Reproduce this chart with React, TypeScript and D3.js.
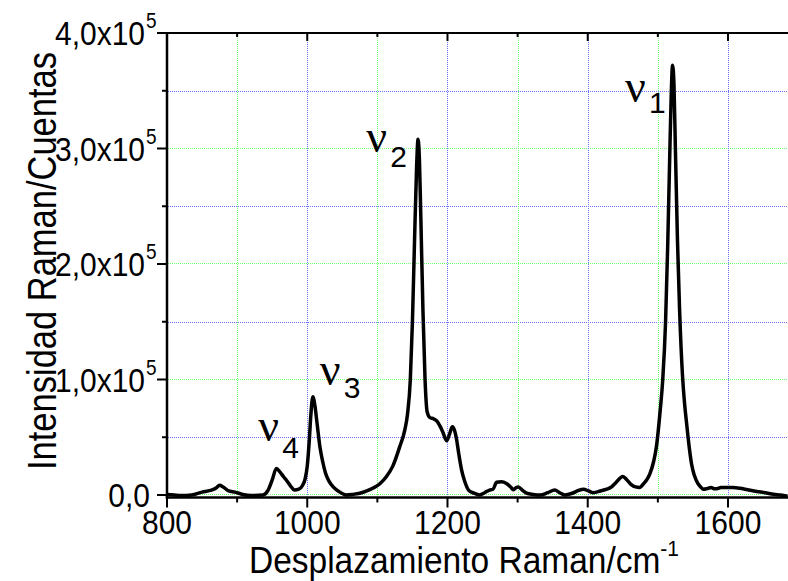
import React from "react";
import * as d3 from "d3";

// Raman spectrum (wavenumber cm^-1, intensity in counts)
const shifts = [
  800, 810, 820, 835, 850, 862, 870, 875, 880, 888, 897, 908, 920, 937, 944, 950, 956, 961, 966, 970,
  976, 982, 988, 993, 997, 1000, 1003, 1005, 1008, 1011, 1014, 1018, 1022, 1026, 1031, 1037, 1045, 1056,
  1065, 1075, 1085, 1094, 1104, 1113, 1122, 1132, 1139, 1143, 1147, 1150, 1153, 1156, 1158, 1160, 1162,
  1165, 1168, 1171, 1175, 1180, 1185, 1189, 1193, 1199, 1203, 1207, 1210, 1213, 1216, 1220, 1225, 1230,
  1238, 1246, 1253, 1260, 1265, 1270, 1277, 1284, 1290, 1294, 1298, 1301, 1307, 1313, 1322, 1332, 1343,
  1353, 1360, 1367, 1378, 1387, 1394, 1401, 1408, 1418, 1427, 1434, 1439, 1445, 1450, 1456, 1462, 1468,
  1474, 1480, 1485, 1489, 1494, 1498, 1503, 1507, 1511, 1514, 1517, 1519, 1521, 1523, 1525, 1528, 1531,
  1535, 1538, 1541, 1545, 1548, 1552, 1557, 1561, 1565, 1570, 1576, 1580, 1584, 1590, 1598, 1607, 1617,
  1628, 1641, 1653, 1665, 1675, 1685,
];
const intensities = [
  500, 0, -500, 0, 2500, 4000, 6000, 8400, 7000, 3500, 2500, 500, -500, 0, 4000, 13000, 23000, 20000, 16000, 13000,
  8000, 4300, 5000, 8000, 14000, 25000, 48000, 68000, 85000, 77000, 62000, 42000, 29000, 19000, 12000, 7000, 3000, 0,
  500, 1500, 3500, 6000, 10000, 16000, 25000, 42000, 56000, 70000, 100000, 150000, 220000, 285000, 308000, 290000, 240000,
  160000, 100000, 72000, 67000, 66000, 64000, 60000, 55000, 47000, 53000, 59000, 56000, 48000, 36000, 22000, 11000, 4300,
  1500, 0, 2000, 4300, 5000, 11000, 11500, 10000, 7000, 4500, 6500, 7000, 4000, 1500, 500, 0, 2000,
  4300, 2000, 0, 1500, 4000, 5000, 3500, 2000, 3500, 5000, 7000, 10000, 14000, 16000, 13000, 9000, 7000,
  6600, 10000, 14000, 19000, 29000, 42000, 71000, 100000, 150000, 215000, 295000, 345000, 372000, 355000, 300000, 220000, 160000,
  105000, 80000, 62000, 40000, 27000, 17000, 10000, 7000, 5000, 5500, 6600, 5500, 5500, 6500, 6600, 6500, 5800,
  4500, 3000, 2000, 600, 0, -1000,
];

const xMajorTicks = [800, 1000, 1200, 1400, 1600];
const xMinorTicks = [900, 1100, 1300, 1500];
const yMajorTicks = [0, 100000, 200000, 300000, 400000];
const yMajorLabels = ["0,0", "1,0x10", "2,0x10", "3,0x10", "4,0x10"];
const yMajorExp = ["", "5", "5", "5", "5"];
const yMinorTicks = [50000, 150000, 250000, 350000];

// band labels: subscript, anchor wavenumber, anchor intensity
const bandSubs = ["1", "2", "3", "4"];
const bandX = [1453, 1084, 1018, 930];
const bandY = [340000, 297000, 95000, 47000];
const bandSubDy = [11, 15, 13, 17];

const W = 788;
const H = 581;
const SANS = "'Liberation Sans', Arial, sans-serif";
const STRETCH = 1.12;

export default function App() {
  const x = d3.scaleLinear().domain([800, 1685.6]).range([167, 788]);
  const y = d3.scaleLinear().domain([0, 400000]).range([495, 33]);
  const pts = shifts.map((s, i) => [s, intensities[i]] as [number, number]);
  const line = d3
    .line<[number, number]>()
    .x((d) => x(d[0]))
    .y((d) => y(d[1]))
    .curve(d3.curveMonotoneX);

  const green = "#70ff70";
  const blue = "#7070ff";
  const axisY = 497.5;
  const px = (v: number) => Math.round(v) + 0.5;

  return (
    <svg width={W} height={H} style={{ position: "absolute", left: 0, top: 0, background: "#fff" }}>
      <rect x={0} y={0} width={W} height={H} fill="#fff" />
      {/* grid */}
      <g strokeWidth={1} strokeDasharray="1,1">
        {yMajorTicks.slice(0, 4).map((t) => (
          <line key={"gy" + t} x1={168} x2={W} y1={px(y(t)) - 1} y2={px(y(t)) - 1} stroke={green} />
        ))}
        {yMinorTicks.map((t) => (
          <line key={"gym" + t} x1={168} x2={W} y1={px(y(t))} y2={px(y(t))} stroke={blue} />
        ))}
        {xMajorTicks.slice(1).map((t) => (
          <line key={"gx" + t} x1={px(x(t))} x2={px(x(t))} y1={34} y2={496} stroke={blue} />
        ))}
        {xMinorTicks.map((t) => (
          <line key={"gxm" + t} x1={px(x(t))} x2={px(x(t))} y1={34} y2={496} stroke={green} />
        ))}
      </g>
      {/* axes */}
      <g stroke="#000">
        <line x1={167} x2={167} y1={33} y2={axisY + 1} strokeWidth={2.5} />
        <line x1={165.8} x2={W} y1={axisY} y2={axisY} strokeWidth={2.5} />
        <line x1={158} x2={W} y1={33} y2={33} strokeWidth={2} />
        {yMajorTicks.map((t) => (
          <line key={"ty" + t} x1={157} x2={167} y1={y(t)} y2={y(t)} strokeWidth={2} />
        ))}
        {yMinorTicks.map((t) => (
          <line key={"tym" + t} x1={162} x2={167} y1={y(t)} y2={y(t)} strokeWidth={2} />
        ))}
        {xMajorTicks.map((t) => (
          <line key={"tx" + t} x1={x(t)} x2={x(t)} y1={axisY} y2={axisY + 10} strokeWidth={2} />
        ))}
        {xMinorTicks.map((t) => (
          <line key={"txm" + t} x1={x(t)} x2={x(t)} y1={axisY} y2={axisY + 5} strokeWidth={2} />
        ))}
        {xMajorTicks.slice(1).map((t) => (
          <line key={"ttx" + t} x1={x(t)} x2={x(t)} y1={33} y2={41} strokeWidth={2} />
        ))}
        {xMinorTicks.map((t) => (
          <line key={"ttxm" + t} x1={x(t)} x2={x(t)} y1={33} y2={37} strokeWidth={2} />
        ))}
      </g>
      {/* spectrum */}
      <path d={line(pts) || ""} fill="none" stroke="#000" strokeWidth={3.5} strokeLinejoin="round" />
      {/* tick labels */}
      <g fontFamily={SANS} fontSize={30} fill="#000">
        {xMajorTicks.map((t) => (
          <text key={"lx" + t} transform={`translate(${x(t)},534) scale(1,${STRETCH})`} textAnchor="middle">
            {t}
          </text>
        ))}
        {yMajorTicks.map((t, i) => (
          <g key={"ly" + t}>
            <text transform={`translate(${i === 0 ? 150 : 145},${y(t) + 12}) scale(1,${STRETCH})`} textAnchor="end">
              {yMajorLabels[i]}
            </text>
            {yMajorExp[i] && (
              <text transform={`translate(146,${y(t) - 5}) scale(1,${STRETCH})`} fontSize={19}>
                {yMajorExp[i]}
              </text>
            )}
          </g>
        ))}
      </g>
      {/* axis titles */}
      <g fontFamily={SANS} fill="#000">
        <text transform={`translate(464,573) scale(1,1.08)`} fontSize={33.5} textAnchor="middle">
          Desplazamiento Raman/cm<tspan fontSize={21} dy={-16}>-1</tspan>
        </text>
        <text transform={`translate(56,261) rotate(-90) scale(1,1.2)`} fontSize={34.5} textAnchor="middle">
          Intensidad Raman/Cuentas
        </text>
      </g>
      {/* band labels */}
      {bandSubs.map((s, i) => (
        <g key={"b" + s}>
          <text x={x(bandX[i])} y={y(bandY[i])} fontFamily="'Liberation Serif', serif" fontSize={46}>
            ν
          </text>
          <text x={x(bandX[i]) + 24} y={y(bandY[i]) + bandSubDy[i]} fontFamily={SANS} fontSize={30}>
            {s}
          </text>
        </g>
      ))}
    </svg>
  );
}
